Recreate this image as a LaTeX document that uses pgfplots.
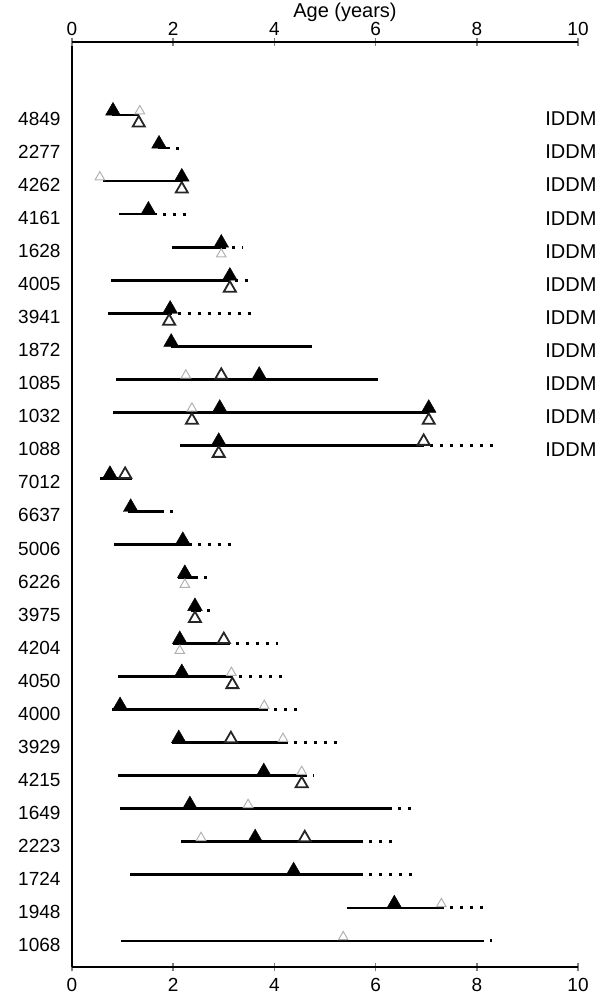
\documentclass[border=0pt]{standalone}
\usepackage{fontspec}
\setmainfont{Liberation Sans}
\usepackage{pgfplots}
\pgfplotsset{compat=1.18}
\begin{document}
\begin{tikzpicture}
\pgfplotsset{
  common/.style={
    at={(72pt,38pt)}, anchor=south west,
    width=506pt, height=925pt, scale only axis,
    xmin=0, xmax=10, ymin=-1.21, ymax=26.79, y dir=reverse,
    xtick={0,2,4,6,8,10},
    tick align=center, major tick length=8pt,
    /pgf/number format/assume math mode=true,
    ticklabel style={font=\fontsize{19}{22}\selectfont},
    label style={font=\fontsize{19}{22}\selectfont},
    axis line style={line width=2pt},
    xtick style={line width=1.6pt},
    clip=false,
  }
}
\begin{axis}[common,
  axis x line*=bottom, axis y line*=left,
  ytick={1,...,26},
  yticklabels={4849,2277,4262,4161,1628,4005,3941,1872,1085,1032,1088,7012,6637,5006,6226,3975,4204,4050,4000,3929,4215,1649,2223,1724,1948,1068},
  ytick style={draw=none},
  yticklabel style={yshift=-4pt, xshift=-4pt},
  xticklabel style={yshift=-4pt},
]
% solid segments
\addplot[black, line width=2.7pt, unbounded coords=jump] coordinates {
(0.80,1) (1.33,1) (nan,nan)
(1.70,2) (1.94,2) (nan,nan)
(0.61,3) (2.20,3) (nan,nan)
(0.93,4) (1.67,4) (nan,nan)
(1.98,5) (3.05,5) (nan,nan)
(0.77,6) (3.10,6) (nan,nan)
(0.71,7) (1.97,7) (nan,nan)
(1.96,8) (4.74,8) (nan,nan)
(0.87,9) (6.05,9) (nan,nan)
(0.81,10) (7.05,10) (nan,nan)
(2.13,11) (6.95,11) (nan,nan)
(0.55,12) (1.18,12) (nan,nan)
(1.10,13) (1.82,13) (nan,nan)
(0.83,14) (2.37,14) (nan,nan)
(2.10,15) (2.49,15) (nan,nan)
(2.35,16) (2.55,16) (nan,nan)
(2.00,17) (3.12,17) (nan,nan)
(0.91,18) (3.18,18) (nan,nan)
(0.80,19) (3.87,19) (nan,nan)
(1.97,20) (4.27,20) (nan,nan)
(0.91,21) (4.64,21) (nan,nan)
(0.95,22) (6.32,22) (nan,nan)
(2.15,23) (5.75,23) (nan,nan)
(1.15,24) (5.75,24) (nan,nan)
(5.43,25) (7.36,25) (nan,nan)
(0.97,26) (8.15,26)
};
% dotted extensions
\addplot[black, line width=3pt, line cap=butt, dash pattern=on 3pt off 7pt, dash phase=4pt, unbounded coords=jump] coordinates {
(1.94,2) (2.12,2) (nan,nan)
(1.67,4) (2.37,4) (nan,nan)
(3.05,5) (3.38,5) (nan,nan)
(3.10,6) (3.54,6) (nan,nan)
(1.97,7) (3.56,7) (nan,nan)
(6.95,11) (8.40,11) (nan,nan)
(1.18,12) (1.28,12) (nan,nan)
(1.82,13) (2.07,13) (nan,nan)
(2.37,14) (3.20,14) (nan,nan)
(2.49,15) (2.68,15) (nan,nan)
(2.55,16) (2.84,16) (nan,nan)
(3.12,17) (4.07,17) (nan,nan)
(3.18,18) (4.20,18) (nan,nan)
(3.87,19) (4.44,19) (nan,nan)
(4.27,20) (5.23,20) (nan,nan)
(4.64,21) (4.78,21) (nan,nan)
(6.32,22) (6.70,22) (nan,nan)
(5.75,23) (6.32,23) (nan,nan)
(5.75,24) (6.74,24) (nan,nan)
(7.36,25) (8.13,25) (nan,nan)
(8.15,26) (8.30,26)
};
% gray markers above line
\addplot[only marks, mark=triangle, mark size=5.5pt, mark options={draw=black!30, line width=1pt, yshift=4pt}] coordinates {
(1.34,1) (0.55,3) (3.10,6) (1.92,7) (2.25,9) (2.37,10) (1.05,12) (3.15,18) (3.80,19) (4.17,20) (4.54,21) (3.48,22) (2.55,23) (7.30,25) (5.36,26)
};
% gray markers below line
\addplot[only marks, mark=triangle, mark size=5.5pt, mark options={draw=black!30, line width=1pt, yshift=-7pt}] coordinates {
(2.95,5) (2.23,15) (2.13,17)
};
% open triangles below line
\addplot[only marks, mark=triangle*, mark size=7pt, mark options={draw=black!85, fill=white, line width=1.8pt, yshift=-8pt}] coordinates {
(1.32,1) (2.17,3) (3.12,6) (1.92,7) (2.37,10) (7.05,10) (2.90,11) (2.43,16) (3.17,18) (4.54,21)
};
% open triangles above line
\addplot[only marks, mark=triangle*, mark size=7pt, mark options={draw=black!85, fill=white, line width=1.8pt, yshift=4pt}] coordinates {
(2.95,9) (6.95,11) (1.05,12) (3.00,17) (3.14,20) (4.60,23)
};
% filled triangles
\addplot[only marks, mark=triangle*, mark size=8.5pt, mark options={draw=black, fill=black, yshift=4.2pt}] coordinates {
(0.81,1) (1.72,2) (2.17,3) (1.51,4) (2.95,5) (3.12,6) (1.94,7) (1.96,8) (3.70,9) (2.92,10) (7.05,10) (2.90,11) (0.75,12) (1.16,13) (2.19,14) (2.23,15) (2.43,16) (2.13,17) (2.17,18) (0.95,19) (2.11,20) (3.79,21) (2.33,22) (3.62,23) (4.38,24) (6.37,25)
};
\pgfplotsinvokeforeach{1,...,11}{
  \node[anchor=west, font=\fontsize{20}{22}\selectfont, yshift=-4pt, inner sep=0pt] at (axis cs:9.35,#1) {IDDM};
}
\end{axis}
\begin{axis}[common,
  axis x line*=top, axis y line=none,
  xticklabel pos=upper,
  xlabel={Age (years)},
  xticklabel style={yshift=-1pt},
  xlabel style={font=\fontsize{20}{23}\selectfont, yshift=-7pt, xshift=20pt},
  ytick=\empty,
]
\addplot[draw=none] coordinates {(0,1)};
\end{axis}
\pgfresetboundingbox
\path[use as bounding box] (0,0) rectangle (597pt,1005pt);
\end{tikzpicture}
\end{document}
